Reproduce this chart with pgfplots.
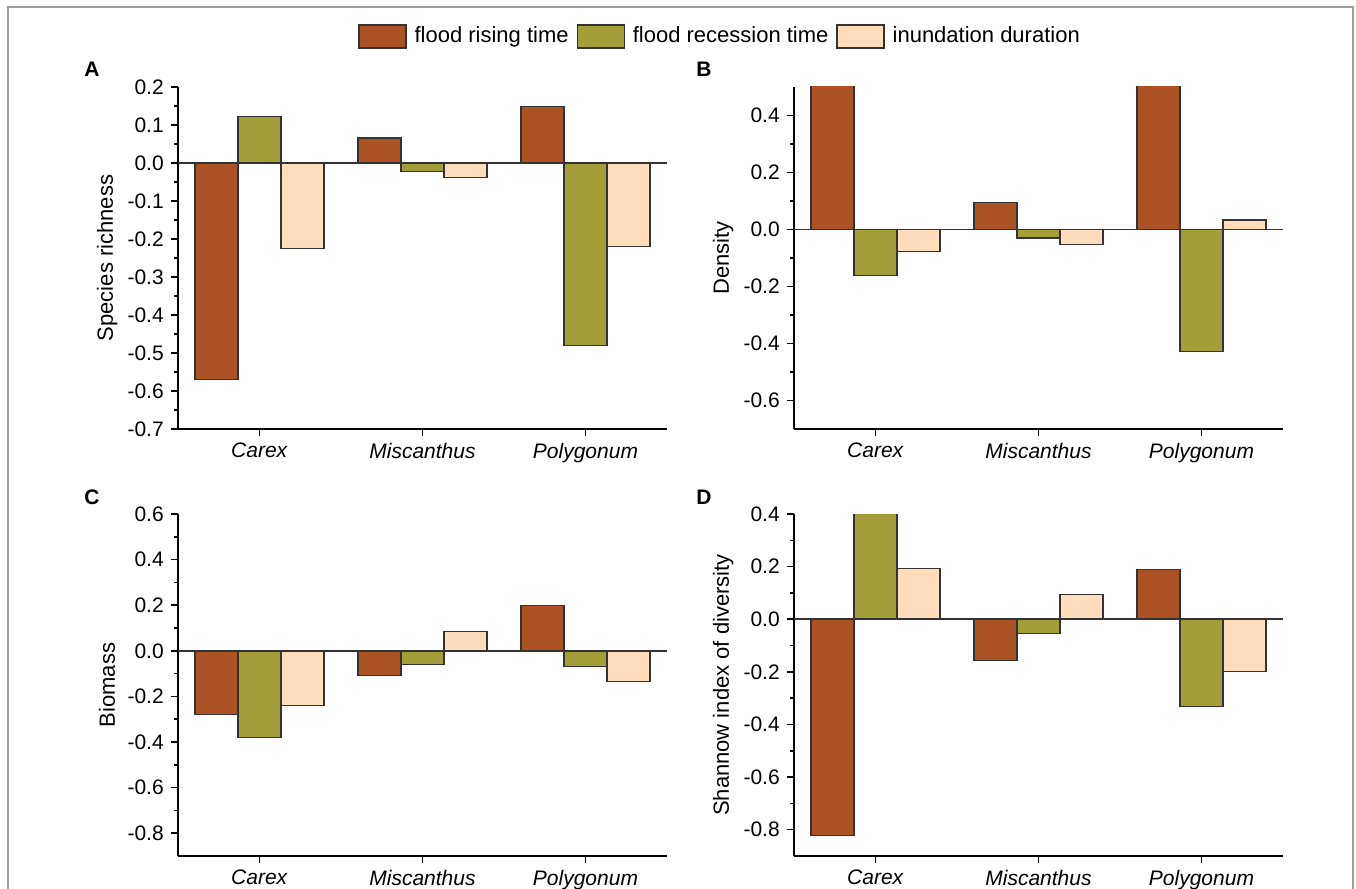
\documentclass[border=0pt]{standalone}
\usepackage{fontspec}
\setmainfont{Liberation Sans}
\usepackage{pgfplots}
\pgfplotsset{compat=1.18}
\definecolor{cRise}{RGB}{171,82,37}
\definecolor{cRec}{RGB}{163,158,55}
\definecolor{cInu}{RGB}{253,221,188}
\pgfplotsset{
  panel/.style={
    scale only axis, width=244.5pt, height=171pt,
    anchor=south west,
    axis x line*=bottom, axis y line*=left,
    axis line style={black, line width=0.9pt},
    tick align=outside,
    major tick length=3.6pt, minor tick length=1.8pt,
    every tick/.style={black, line width=0.8pt},
    xmin=-0.5, xmax=2.5,
    xtick={0,1,2},
    xticklabels={\textit{Carex},\textit{Miscanthus},\textit{Polygonum}},
    minor x tick num=0,
    minor y tick num=1,
    ybar=0pt, bar width=0.264,
    /pgf/number format/assume math mode=true,
    /pgf/number format/.cd, fixed, fixed zerofill, precision=1, /pgfplots/.cd,
    tick label style={font=\fontsize{10.5}{12}\selectfont},
    every axis y label/.style={at={(axis description cs:-0.145,0.5)}, rotate=90, anchor=center, font=\fontsize{11}{13}\selectfont},
    legend image code/.code={\draw[#1,draw=black!80,line width=0.6pt] (0pt,-5.75pt) rectangle (23.5pt,5.75pt);},
  },
  rise/.style={fill=cRise, draw=black!80, line width=0.6pt},
  rec/.style={fill=cRec, draw=black!80, line width=0.6pt},
  inu/.style={fill=cInu, draw=black!80, line width=0.6pt},
}
\begin{document}
\begin{tikzpicture}
\useasboundingbox (0,0) rectangle (678pt,444.5pt);
\draw[black!38, line width=1pt] (3.75pt,0) -- (3.75pt,441pt) -- (676.5pt,441pt) -- (676.5pt,0);

% Panel A
\begin{axis}[panel, at={(89pt,230pt)},
  ymin=-0.7, ymax=0.2,
  ytick={-0.7,-0.6,-0.5,-0.4,-0.3,-0.2,-0.1,0,0.1,0.2},
  ylabel={Species richness},
  legend columns=3,
  legend style={at={(axis description cs:0.368,1.1477)}, anchor=west, draw=none, fill=none,
    inner xsep=0pt, inner ysep=0pt, font=\fontsize{11}{13}\selectfont,
    column sep=0pt, nodes={inner sep=4pt}},
  legend cell align=left]
\addplot[rise] coordinates {(0,-0.57) (1,0.066) (2,0.149)};
\addlegendentry{flood rising time}
\addplot[rec] coordinates {(0,0.122) (1,-0.022) (2,-0.48)};
\addlegendentry{flood recession time}
\addplot[inu] coordinates {(0,-0.226) (1,-0.039) (2,-0.22)};
\addlegendentry{inundation duration}
\draw[black!80, line width=0.8pt] (axis cs:-0.5,0) -- (axis cs:2.5,0);
\end{axis}

% Panel B
\begin{axis}[panel, at={(397pt,230pt)},
  ymin=-0.7, ymax=0.5,
  ytick={-0.6,-0.4,-0.2,0,0.2,0.4},
  ylabel={Density}]
\addplot[rise] coordinates {(0,0.6) (1,0.094) (2,0.6)};
\addplot[rec] coordinates {(0,-0.161) (1,-0.03) (2,-0.427)};
\addplot[inu] coordinates {(0,-0.076) (1,-0.053) (2,0.033)};
\draw[black!80, line width=0.8pt] (axis cs:-0.5,0) -- (axis cs:2.5,0);
\end{axis}

% Panel C
\begin{axis}[panel, at={(89pt,16.5pt)},
  ymin=-0.9, ymax=0.6,
  ytick={-0.8,-0.6,-0.4,-0.2,0,0.2,0.4,0.6},
  ylabel={Biomass}]
\addplot[rise] coordinates {(0,-0.279) (1,-0.107) (2,0.199)};
\addplot[rec] coordinates {(0,-0.381) (1,-0.06) (2,-0.07)};
\addplot[inu] coordinates {(0,-0.239) (1,0.084) (2,-0.136)};
\draw[black!80, line width=0.8pt] (axis cs:-0.5,0) -- (axis cs:2.5,0);
\end{axis}

% Panel D
\begin{axis}[panel, at={(397pt,16.5pt)},
  ymin=-0.9, ymax=0.4,
  ytick={-0.8,-0.6,-0.4,-0.2,0,0.2,0.4},
  ylabel={Shannow index of diversity}]
\addplot[rise] coordinates {(0,-0.822) (1,-0.157) (2,0.188)};
\addplot[rec] coordinates {(0,0.5) (1,-0.053) (2,-0.331)};
\addplot[inu] coordinates {(0,0.192) (1,0.094) (2,-0.199)};
\draw[black!80, line width=0.8pt] (axis cs:-0.5,0) -- (axis cs:2.5,0);
\end{axis}

\node[anchor=base west, font=\bfseries\fontsize{10.5}{12}\selectfont, inner sep=0pt] at (42pt,406pt) {A};
\node[anchor=base west, font=\bfseries\fontsize{10.5}{12}\selectfont, inner sep=0pt] at (348pt,406pt) {B};
\node[anchor=base west, font=\bfseries\fontsize{10.5}{12}\selectfont, inner sep=0pt] at (42pt,192pt) {C};
\node[anchor=base west, font=\bfseries\fontsize{10.5}{12}\selectfont, inner sep=0pt] at (348pt,192pt) {D};
\end{tikzpicture}
\end{document}
